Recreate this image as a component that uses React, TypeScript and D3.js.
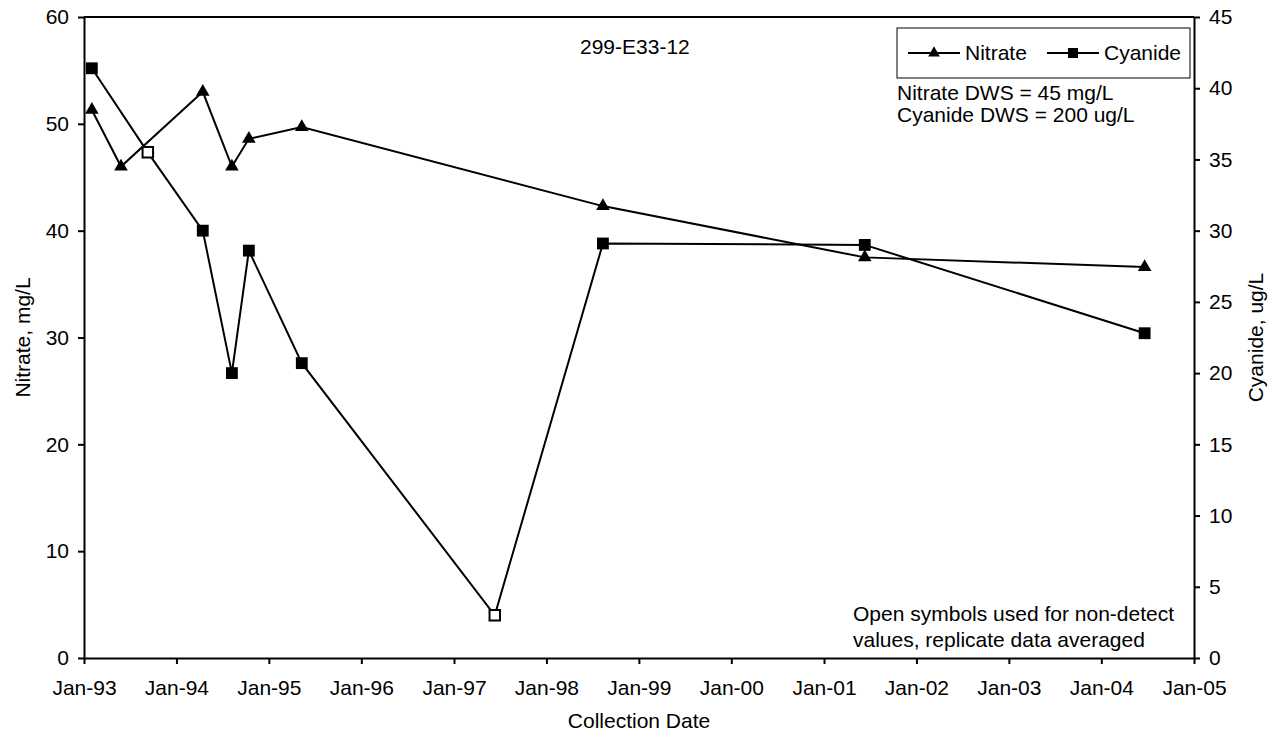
import React, { useRef, useEffect } from 'react';
import * as d3 from 'd3';

// sample dates shared by both series
const dates = [
  '1993-02-01', '1993-05-27', '1993-09-10', '1994-04-15', '1994-08-08',
  '1994-10-14', '1995-05-11', '1997-06-11', '1998-08-12', '2001-06-11', '2004-06-20'
];
const nitrate: (number | null)[] = [51.3, 46.0, null, 53.0, 46.0, 48.6, 49.7, null, 42.3, 37.5, 36.6];
const cyanide: (number | null)[] = [41.4, null, 35.5, 30.0, 20.0, 28.6, 20.7, 3.0, 29.1, 29.0, 22.8];
// true = non-detect (open symbol)
const cyanideOpen = [false, false, true, false, false, false, false, true, false, false, false];

const xTickYears = d3.range(1993, 2006);
const leftTicks = [0, 10, 20, 30, 40, 50, 60];
const rightTicks = [0, 5, 10, 15, 20, 25, 30, 35, 40, 45];

const FONT = '"Liberation Sans", Arial, sans-serif';
const FS = '21px';

export default function App() {
  const svgRef = useRef<SVGSVGElement>(null);

  useEffect(() => {
    const svg = d3.select(svgRef.current);
    svg.selectAll('*').remove();

    const width = 1276;
    const height = 740;
    const margin = { top: 17, right: 82, bottom: 82, left: 84 };
    const innerWidth = width - margin.left - margin.right;
    const innerHeight = height - margin.top - margin.bottom;

    const parse = d3.timeParse('%Y-%m-%d');
    const parsed = dates.map(d => parse(d) as Date);

    const x = d3.scaleTime()
      .domain([new Date(1993, 0, 1), new Date(2005, 0, 1)])
      .range([0, innerWidth]);
    const yLeft = d3.scaleLinear().domain([0, 60]).range([innerHeight, 0]);
    const yRight = d3.scaleLinear().domain([0, 45]).range([innerHeight, 0]);

    const g = svg.append('g')
      .attr('transform', `translate(${margin.left},${margin.top})`)
      .style('font-family', FONT);

    // frame: top edge
    g.append('line')
      .attr('x1', 0).attr('x2', innerWidth)
      .attr('y1', 0).attr('y2', 0)
      .attr('stroke', '#000').attr('stroke-width', 2);

    // axes
    const styleAxis = (sel: any) => {
      sel.select('.domain').attr('stroke', '#000').attr('stroke-width', 2);
      sel.selectAll('.tick line').attr('stroke', '#000').attr('stroke-width', 2);
      sel.selectAll('.tick text').attr('fill', '#000').style('font-size', FS).style('font-family', FONT);
    };

    g.append('g')
      .attr('transform', `translate(0,${innerHeight})`)
      .call(d3.axisBottom(x)
        .tickValues(xTickYears.map(y => new Date(y, 0, 1)))
        .tickFormat(d => d3.timeFormat('Jan-%y')(d as Date))
        .tickSize(6).tickSizeOuter(0).tickPadding(16))
      .call(styleAxis);

    g.append('g')
      .call(d3.axisLeft(yLeft).tickValues(leftTicks).tickSize(6).tickSizeOuter(0).tickPadding(9))
      .call(styleAxis);

    g.append('g')
      .attr('transform', `translate(${innerWidth},0)`)
      .call(d3.axisRight(yRight).tickValues(rightTicks).tickSize(6).tickSizeOuter(0).tickPadding(9))
      .call(styleAxis);

    // axis titles
    svg.append('text')
      .attr('transform', `translate(30,${margin.top + innerHeight / 2}) rotate(-90)`)
      .attr('text-anchor', 'middle')
      .style('font-family', FONT).style('font-size', FS)
      .text('Nitrate, mg/L');
    svg.append('text')
      .attr('transform', `translate(1263,${margin.top + innerHeight / 2}) rotate(-90)`)
      .attr('text-anchor', 'middle')
      .style('font-family', FONT).style('font-size', FS)
      .text('Cyanide, ug/L');
    svg.append('text')
      .attr('x', margin.left + innerWidth / 2).attr('y', 728)
      .attr('text-anchor', 'middle')
      .style('font-family', FONT).style('font-size', FS)
      .text('Collection Date');

    // series points
    const nitratePts = parsed
      .map((d, i) => ({ date: d, v: nitrate[i] }))
      .filter(p => p.v !== null) as { date: Date; v: number }[];
    const cyanidePts = parsed
      .map((d, i) => ({ date: d, v: cyanide[i], open: cyanideOpen[i] }))
      .filter(p => p.v !== null) as { date: Date; v: number; open: boolean }[];

    const nLine = d3.line<{ date: Date; v: number }>()
      .x(d => x(d.date)).y(d => yLeft(d.v));
    const cLine = d3.line<{ date: Date; v: number }>()
      .x(d => x(d.date)).y(d => yRight(d.v));

    g.append('path').datum(nitratePts)
      .attr('d', nLine).attr('fill', 'none').attr('stroke', '#000').attr('stroke-width', 2);
    g.append('path').datum(cyanidePts)
      .attr('d', cLine).attr('fill', 'none').attr('stroke', '#000').attr('stroke-width', 2);

    const tri = d3.symbol().type(d3.symbolTriangle).size(80);
    const sq = d3.symbol().type(d3.symbolSquare).size(140);
    const sqOpen = d3.symbol().type(d3.symbolSquare).size(110);

    g.selectAll('.tri').data(nitratePts).enter().append('path')
      .attr('transform', d => `translate(${x(d.date)},${yLeft(d.v)})`)
      .attr('d', tri()).attr('fill', '#000');

    g.selectAll('.sq').data(cyanidePts).enter().append('path')
      .attr('transform', d => `translate(${x(d.date)},${yRight(d.v)})`)
      .attr('d', d => (d.open ? sqOpen() : sq()))
      .attr('fill', d => (d.open ? '#fff' : '#000'))
      .attr('stroke', '#000')
      .attr('stroke-width', d => (d.open ? 2 : 0));

    // title
    svg.append('text')
      .attr('x', 580).attr('y', 54)
      .style('font-family', FONT).style('font-size', FS)
      .text('299-E33-12');

    // legend
    const lg = svg.append('g').style('font-family', FONT).style('font-size', FS);
    lg.append('rect')
      .attr('x', 897).attr('y', 28).attr('width', 293).attr('height', 50)
      .attr('fill', '#fff').attr('stroke', '#000').attr('stroke-width', 1);
    const legendItems = [
      { label: 'Nitrate', x0: 908, sym: d3.symbol().type(d3.symbolTriangle).size(60)() },
      { label: 'Cyanide', x0: 1047, sym: d3.symbol().type(d3.symbolSquare).size(100)() }
    ];
    legendItems.forEach(it => {
      lg.append('line')
        .attr('x1', it.x0).attr('x2', it.x0 + 52)
        .attr('y1', 53).attr('y2', 53)
        .attr('stroke', '#000').attr('stroke-width', 2);
      lg.append('path')
        .attr('transform', `translate(${it.x0 + 26},53)`)
        .attr('d', it.sym).attr('fill', '#000');
      lg.append('text')
        .attr('x', it.x0 + 57).attr('y', 60)
        .text(it.label);
    });

    // notes
    const notes = svg.append('g').style('font-family', FONT).style('font-size', FS);
    notes.append('text').attr('x', 897).attr('y', 100).text('Nitrate DWS = 45 mg/L');
    notes.append('text').attr('x', 897).attr('y', 122).text('Cyanide DWS = 200 ug/L');
    notes.append('text').attr('x', 853).attr('y', 621).text('Open symbols used for non-detect');
    notes.append('text').attr('x', 853).attr('y', 647).text('values, replicate data averaged');
  }, []);

  return (
    <div>
      <svg
        ref={svgRef}
        width={1276}
        height={740}
        style={{ position: 'absolute', left: 0, top: 0, background: '#fff' }}
      />
    </div>
  );
}
